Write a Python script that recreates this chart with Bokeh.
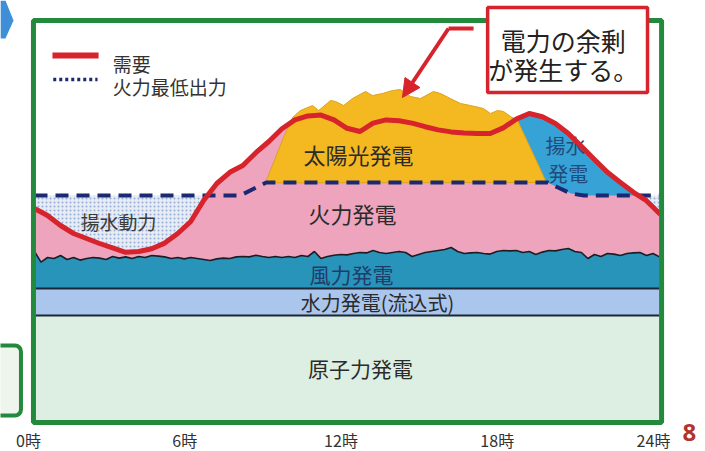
import numpy as np
from bokeh.plotting import figure
from bokeh.models import (Range1d, BoxAnnotation, Arrow, NormalHead, Label,
                          PolyAnnotation)
from bokeh.core.properties import value
from bokeh.embed import file_html
from bokeh.resources import INLINE

# ---------------------------------------------------------------- data
# Daily demand curve (relative output, frame height = 100)
demand_hours = np.arange(0, 24.5, 0.5)
demand = [53.25, 51.5, 49.0, 47.0, 45.75, 44.5, 43.4, 42.3, 42.5, 43.2,
          44.6, 47.0, 50.0, 55.3, 59.5, 62.3, 64.0, 67.2, 70.0, 73.2,
          75.4, 76.4, 76.6, 75.4, 73.3, 72.5, 74.6, 75.4, 75.2, 74.6,
          73.7, 72.9, 72.4, 72.1, 72.0, 72.0, 73.4, 75.6, 77.0, 76.2,
          74.5, 72.0, 68.8, 65.5, 62.3, 59.75, 57.3, 55.2, 52.0]

# Base-load bands
band_hours = [0, 24]
nuclear = [26.5, 26.5]
hydro = [6.75, 6.75]          # run-of-river hydro

# Wind output, every 15 minutes
wind = [9.25, 6.6, 7.75, 7.5, 8.25, 7.25, 7.75, 7.1, 7.5, 7.75, 7.6, 7.25,
        8.0, 7.6, 7.9, 7.5, 8.0, 7.75, 8.25, 8.1, 7.9, 7.5, 7.75, 7.4,
        7.75, 7.5, 7.25, 7.0, 7.4, 7.6, 7.5, 7.9, 8.0,
        7.9, 8.3, 8.0, 7.75, 8.0, 7.75, 8.0, 7.75, 8.25, 8.0, 9.25, 7.5,
        8.0, 8.3, 8.5, 8.4, 8.75, 9.0, 8.9, 9.5, 9.0, 8.75, 9.0, 9.25,
        9.0, 8.0, 8.5, 9.0, 9.25, 9.5, 9.75, 10.25, 9.25, 8.75, 8.9, 9.0,
        8.75, 8.6, 9.25, 9.5, 9.4, 9.5, 9.0, 9.25, 8.5, 9.1, 9.5, 9.4,
        9.75, 10.0, 9.25, 9.0, 7.5, 8.5, 8.0, 8.75, 8.6, 8.25, 8.75, 8.9,
        9.0, 8.25, 8.75, 7.9]
assert len(wind) == 97
wind_hours = np.linspace(0, 24, len(wind))

# Minimum output of thermal plants
thermal_min_hours = [0, 7.9, 8.9, 19.7, 20.1, 20.6, 21.1, 24]
thermal_min = [56.5, 56.5, 59.75, 59.75, 58.5, 57.0, 56.5, 56.5]

# Solar output stacked on top of the thermal minimum
solar_hours = [8.87, 9.56, 9.91, 10.21, 10.68, 10.91, 11.37, 11.56, 11.87,
               12.21, 12.71, 12.98, 13.36, 13.75, 14.05, 14.44, 14.82,
               15.32, 15.59, 15.97, 16.36, 16.74, 17.24, 17.51, 17.78,
               18.01, 18.28, 18.55, 19.66]
solar = [0, 11.25, 16.25, 18.0, 19.25, 18.0, 20.5, 20.25, 19.25, 21.0,
         22.75, 21.75, 22.25, 23.0, 23.25, 21.5, 21.0, 22.75, 22.25, 21.0,
         19.75, 19.25, 18.5, 17.25, 18.0, 17.75, 16.5, 15.5, 0]

pumped_gen_start = 18.0       # pumped-storage generation in the evening

tick_hours = [0, 6, 12, 18, 24]
tick_labels = ["0時", "6時", "12時", "18時", "24時"]

# ---------------------------------------------------------------- layout
W, H = 705, 451
PX_PER_HOUR = 625 / 24
PX_PER_UNIT = 4.0
LEFT_PX, BOTTOM_PX = 34, 30
x0 = -LEFT_PX / PX_PER_HOUR
x1 = (W - LEFT_PX) / PX_PER_HOUR
y0 = -BOTTOM_PX / PX_PER_UNIT
y1 = (H - BOTTOM_PX) / PX_PER_UNIT

FONT_NAME = "Noto Sans CJK JP"
FONT = value(FONT_NAME)
RED = "#d7232b"
NAVY = "#1b2872"
GREEN = "#23893d"
TEXT = "#2b2b2b"

p = figure(width=W, height=H, x_range=Range1d(x0, x1), y_range=Range1d(y0, y1),
           output_backend="svg", toolbar_location=None,
           x_axis_type=None, y_axis_type=None, min_border=0)
p.outline_line_color = None
p.background_fill_color = "white"
p.border_fill_color = "white"


def on_grid(h_a, v_a, h_b, v_b):
    """Evaluate two piecewise-linear series on a common grid incl. crossings."""
    grid = np.union1d(h_a, h_b)
    a = np.interp(grid, h_a, v_a)
    b = np.interp(grid, h_b, v_b)
    d = a - b
    extra = []
    for i in range(len(grid) - 1):
        if d[i] * d[i + 1] < 0:
            t = d[i] / (d[i] - d[i + 1])
            extra.append(grid[i] + t * (grid[i + 1] - grid[i]))
    grid = np.union1d(grid, extra)
    return grid, np.interp(grid, h_a, v_a), np.interp(grid, h_b, v_b)


# stacked levels
nuc_top = np.array(nuclear)
hyd_top = nuc_top + np.array(hydro)
wind_base = np.interp(wind_hours, band_hours, hyd_top)
wind_top = wind_base + np.array(wind)

# thermal generation: everything under the demand curve
p.varea(x=demand_hours, y1=0, y2=demand, fill_color="#eea4bd")

# nuclear, run-of-river hydro, wind
p.varea(x=band_hours, y1=0, y2=nuc_top, fill_color="#ddefe2")
p.varea(x=band_hours, y1=nuc_top, y2=hyd_top, fill_color="#abc6ec")
p.varea(x=wind_hours, y1=wind_base, y2=wind_top, fill_color="#2894ba")
p.line(band_hours, nuc_top, line_color="#1b2638", line_width=2)
p.line(band_hours, hyd_top, line_color="#1b2638", line_width=2)
p.line(wind_hours, wind_top, line_color="#1d1d24", line_width=1.6)

# pumping power (thermal minimum above demand)
g, dem_g, tmin_g = on_grid(demand_hours, demand, thermal_min_hours, thermal_min)
p.varea(x=g, y1=np.minimum(dem_g, tmin_g), y2=tmin_g,
        fill_color="#e6ecf5", hatch_pattern="dot", hatch_color="#6d8cc4",
        hatch_scale=4, hatch_weight=1.2, hatch_alpha=0.65)

# pumped-storage generation (demand above thermal minimum, evening)
m = g >= pumped_gen_start
p.varea(x=g[m], y1=tmin_g[m], y2=np.maximum(dem_g[m], tmin_g[m]),
        fill_color="#37a2d6")

# solar generation
solar_base = np.interp(solar_hours, thermal_min_hours, thermal_min)
solar_top = solar_base + np.array(solar)
sx = list(solar_hours) + [solar_hours[-1], solar_hours[0]]
sy = list(solar_top) + [solar_base[-1], solar_base[0]]
p.patch(sx, sy, fill_color="#f4b820", line_color="#dca31c", line_width=1)

# area labels
area_labels = [
    ("太陽光発電", 12.44, 67.0, "22px", TEXT),
    ("火力発電", 12.21, 52.25, "22px", TEXT),
    ("揚水動力", 3.23, 50.0, "19px", "#3a3a3a"),
    ("風力発電", 12.17, 37.0, "21px", "#1f3d6b"),
    ("水力発電(流込式)", 13.17, 29.75, "20px", TEXT),
    ("原子力発電", 12.52, 13.5, "21px", TEXT),
    ("揚水", 20.39, 69.0, "20px", "#1e4c7c"),
    ("発電", 20.5, 62.0, "20px", "#1e4c7c"),
]
for txt, hx, ly, size, color in area_labels:
    p.text(x=[hx], y=[ly], text=[txt], text_font=FONT, text_font_size=size,
           text_color=color, text_align="center", text_baseline="middle")

# thermal minimum and demand
p.line(thermal_min_hours, thermal_min, line_color=NAVY, line_width=4,
       line_dash="13 8")
p.line(demand_hours, demand, line_color=RED, line_width=5,
       line_join="round", line_cap="round")

# hour labels under the frame
p.text(x=tick_hours, y=[-4.5] * len(tick_hours), text=tick_labels, x_offset=-6,
       text_font=FONT, text_font_size="16px", text_color="#333333",
       text_align="center", text_baseline="middle")

# frame
p.add_layout(BoxAnnotation(left=-0.04, right=24.08, bottom=-0.25, top=100.25,
                           fill_alpha=0, line_color=GREEN, line_alpha=1,
                           line_width=5))

# decorations at the page edge
p.add_layout(PolyAnnotation(xs=[-1.31, -1.114, -0.806, -1.114, -1.31],
                            ys=[105.25, 105.25, 100.25, 95.75, 95.75],
                            fill_color="#3f8fd8", fill_alpha=1, line_alpha=0))
p.add_layout(BoxAnnotation(left=-2.0, right=-0.52, bottom=1.5, top=19.0,
                           border_radius=6, fill_color="#eef5ec", fill_alpha=1,
                           line_color=GREEN, line_alpha=1, line_width=4))

# legend (line samples + labels)
p.add_layout(Arrow(end=None, x_start=0.69, y_start=91.5, x_end=2.46,
                   y_end=91.5, line_color=RED, line_width=6))
p.add_layout(Arrow(end=None, x_start=0.72, y_start=85.5, x_end=2.42,
                   y_end=85.5, line_color=NAVY, line_width=3.5,
                   line_dash="3 3"))
for txt, ly in (("需要", 89.5), ("火力最低出力", 83.75)):
    p.add_layout(Label(x=3.0, y=ly, text=txt, text_font=FONT_NAME,
                       text_font_size="19px", text_color="#333333",
                       text_align="left", text_baseline="middle"))

# callout
p.add_layout(BoxAnnotation(left=17.40, right=23.54, bottom=82.25, top=103.5,
                           fill_color="white", fill_alpha=1,
                           line_color=RED, line_alpha=1, line_width=3.5))
p.add_layout(Arrow(end=None, x_start=16.86, y_start=98.25, x_end=15.90,
                   y_end=98.25, line_color=RED, line_width=4))
p.add_layout(Arrow(end=NormalHead(size=18, fill_color=RED, line_color=RED),
                   x_start=15.90, y_start=98.25, x_end=14.13, y_end=81.0,
                   line_color=RED, line_width=4))
for txt, ly in (("電力の余剰", 95.5), ("が発生する。", 88.25)):
    p.add_layout(Label(x=20.3, y=ly, text=txt, text_font=FONT_NAME,
                       text_font_size="25px", text_color="#222222",
                       text_align="center", text_baseline="middle"))

# page number
p.add_layout(Label(x=25.15, y=-2.75, text="8", text_font="Noto Sans",
                   text_font_size="24px", text_font_style="bold",
                   text_color="#b3322b", text_align="center",
                   text_baseline="middle"))

open("out.html", "w").write(file_html(p, INLINE))
